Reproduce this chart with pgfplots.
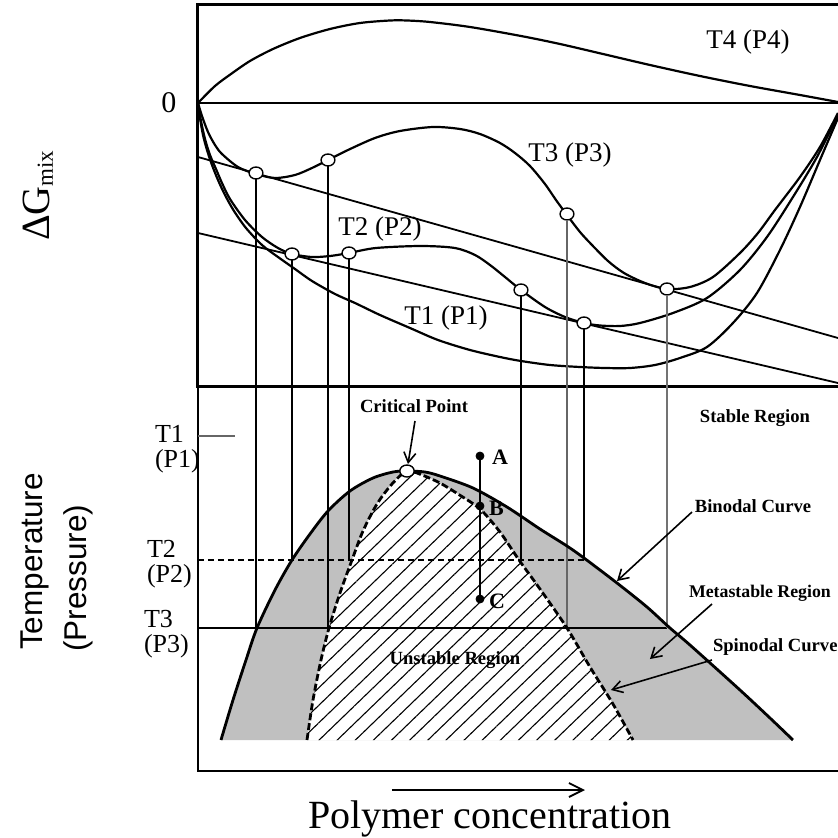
\documentclass[border=0pt]{standalone}
\usepackage{pgfplots}
\pgfplotsset{compat=1.18}
\usepackage{pgfplotstable}
\usepackage{fontspec}
\setmainfont{Liberation Serif}
\newfontfamily\arialfont{Liberation Sans}
\usetikzlibrary{arrows.meta,patterns.meta}
\definecolor{metagray}{RGB}{192,192,192}

% Free-energy curves (x: composition, y: drawing units, downward)
\pgfplotstableread{
x y
198 103
215 86
231 74
250 61
273 49
300 38
330 29
360 23
390 20.5
407 20.5
430 22
470 27
521 36
560 44
603 54
650 65
700 76
750 86
800 95
838 102
}\curveTfour
\pgfplotstableread{
x y
198 103
202 116
208 132
215 145
222 154
238 167
256 174
275 178
295 175
312 168
328 160
348 150
375 138
400 131
433 127
460 129
480 134
500 143
515 153
530 166
545 184
556 200
567 215
580 232
592 245
608 261
624 273
645 283
667 289
690 287
713 277
740 253
758 233
775 210
800 177
820 147
838 113
}\curveTthree
\pgfplotstableread{
x y
198 103
201 121
205 139
210 155
216 169
222 183
230 199
245 220
262 237
278 248
292 254
312 257
330 256
349 253
376 248
421 246
455 248
475 255
490 265
505 277
521 290
545 307
565 317
584 323
600 325.5
620 326
640 323
673 313
707 298
740 270
767 237
793 197
817 157
838 115
}\curveTtwo
\pgfplotstableread{
x y
198 103
200 118
203 135
207 150
212 165
218 180
225 195
234 211
246 228
262 245
278 257
295 269
312 281
335 294
355 303
380 315
410 328
438 340
470 350
500 357
521 361
550 365
580 367
605 368
630 368
655 365
680 358
707 347
733 323
757 293
780 250
800 207
820 160
838 118
}\curveTone
% Phase diagram boundaries
\pgfplotstableread{
x y
221 740
233 700
246 660
257 628
275 590
292 560
310 534
328 511
350 491
373 478
393 472
407 471
425 472
440 476
473 488
507 507
540 529
567 546
584 558
617 583
647 607
670 628
690 645
740 690
770 718
793 740
}\binodal
\pgfplotstableread{
x y
307 740
313 700
321 660
329 628
340 593
352 560
363 531
377 504
392 484
407 471
422 475
440 483
458 494
480 509
500 532
519 560
540 589
567 628
590 667
613 704
633 740
}\spinodal

\pgfplotsset{panel/.style={
  scale only axis, width=320bp, xmin=198, xmax=838,
  y dir=reverse, hide axis, clip=false}}
\tikzset{
  lbl/.style={font=\fontsize{13.5bp}{16bp}\selectfont},
  side/.style={font=\fontsize{13bp}{15bp}\selectfont, anchor=base west},
  reg/.style={font=\fontsize{9.3bp}{11bp}\selectfont\bfseries},
  pointer/.style={line width=0.8bp, -{Straight Barb[length=5bp,width=6bp]}}
}

\begin{document}
\begin{tikzpicture}
% ---- Gibbs free energy of mixing ----
\begin{axis}[panel, name=top, ymin=5, ymax=386, height=190.5bp]
\coordinate (pageTL) at (axis cs:0,0);
\coordinate (pageBR) at (axis cs:838,838);
\draw[line width=1.5bp] (axis cs:838,5) -- (axis cs:198,5) -- (axis cs:198,386) -- (axis cs:838,386);
\addplot[line width=1bp] coordinates {(198,103) (838,103)};
\addplot[line width=1.1bp, smooth] table {\curveTfour};
\addplot[line width=1.1bp, smooth] table {\curveTthree};
\addplot[line width=1.1bp, smooth] table {\curveTtwo};
\addplot[line width=1.1bp, smooth] table {\curveTone};
% common tangents
\addplot[line width=0.9bp] coordinates {(198,157) (838,338)};
\addplot[line width=0.9bp] coordinates {(198,233) (838,383)};
% tangent and inflection points
\addplot[only marks, mark=*, mark size=3bp,
  mark options={fill=white, draw=black, line width=0.7bp, xscale=1.15}]
  coordinates {(256,173) (328,160) (567,214) (667,289)
               (292,254) (349,253) (521,290) (584,323)};
\node[font=\fontsize{15bp}{18bp}\selectfont] at (axis cs:169,103) {0};
\node[lbl] at (axis cs:748,42) {T4 (P4)};
\node[lbl] at (axis cs:570,155) {T3 (P3)};
\node[lbl] at (axis cs:380,229) {T2 (P2)};
\node[lbl] at (axis cs:446,318) {T1 (P1)};
\node[rotate=90, anchor=base west, font=\fontsize{20bp}{23bp}\selectfont]
  at (axis cs:50,248) {ΔG\raisebox{-1.5bp}{\fontsize{11.5bp}{13bp}\selectfont mix}};
\end{axis}

% ---- Phase diagram ----
\begin{axis}[panel, at={(top.south west)}, anchor=north west,
  ymin=386, ymax=772, height=193bp]
\draw[line width=1.4bp] (axis cs:198,386) -- (axis cs:198,771) -- (axis cs:838,771);
\addplot[fill=metagray, draw=none, smooth] table {\binodal} -- cycle;
\addplot[fill=white, draw=none, smooth,
  postaction={pattern={Lines[angle=44, distance=6.3bp, line width=0.55bp]}}]
  table {\spinodal} -- cycle;
% isotherm lines
\addplot[line width=0.6bp, black!60] coordinates {(198,436) (235,436)};
\addplot[line width=0.7bp, dash pattern=on 3bp off 2bp] coordinates {(198,560) (584,560)};
\addplot[line width=0.8bp] coordinates {(198,628) (667,628)};
% projections of the tangent and inflection points
\addplot[line width=0.7bp] coordinates {(256,179) (256,628)};
\addplot[line width=0.7bp] coordinates {(328,166) (328,628)};
\addplot[line width=0.7bp, black!60] coordinates {(567,220) (567,628)};
\addplot[line width=0.7bp, black!55] coordinates {(667,295) (667,628)};
\addplot[line width=0.7bp] coordinates {(292,260) (292,560)};
\addplot[line width=0.7bp] coordinates {(349,259) (349,560)};
\addplot[line width=0.7bp] coordinates {(521,296) (521,560)};
\addplot[line width=0.7bp] coordinates {(584,329) (584,560)};
% binodal and spinodal curves
\addplot[line width=1.4bp, smooth] table {\binodal};
\addplot[line width=1.4bp, smooth, dash pattern=on 3.5bp off 1.5bp] table {\spinodal};
% quench path A-B-C
\addplot[line width=0.8bp] coordinates {(480,456) (480,599)};
\addplot[only marks, mark=*, mark size=2bp] coordinates {(480,456) (480,506) (480,599)};
\addplot[only marks, mark=*, mark size=3bp,
  mark options={fill=white, draw=black, line width=0.7bp, xscale=1.2}]
  coordinates {(407,471)};
\node[reg, font=\fontsize{11bp}{13bp}\selectfont\bfseries, anchor=west] at (axis cs:485,457) {A};
\node[reg, font=\fontsize{11bp}{13bp}\selectfont\bfseries, anchor=west] at (axis cs:482,508) {B};
\node[reg, font=\fontsize{11bp}{13bp}\selectfont\bfseries, anchor=west] at (axis cs:482,601) {C};
% region and curve annotations
\node[reg] at (axis cs:414,406) {Critical Point};
\draw[pointer] (axis cs:415,421) -- (axis cs:408,464);
\node[reg] at (axis cs:755,418) {Stable Region};
\node[reg] at (axis cs:753,506) {Binodal Curve};
\draw[pointer] (axis cs:692,512) -- (axis cs:617,581);
\node[reg, font=\fontsize{8.9bp}{11bp}\selectfont\bfseries, anchor=west] at (axis cs:682,593) {Metastable Region};
\draw[pointer] (axis cs:712,604) -- (axis cs:650,659);
\node[reg, anchor=west] at (axis cs:706,647) {Spinodal Curve};
\draw[pointer] (axis cs:712,660) -- (axis cs:611,690);
\node[reg] at (axis cs:455,660) {Unstable Region};
% axis texts
\node[side] at (axis cs:148,442) {T1};
\node[side] at (axis cs:148,467) {(P1)};
\node[side] at (axis cs:140,557) {T2};
\node[side] at (axis cs:140,582) {(P2)};
\node[side] at (axis cs:137,627) {T3};
\node[side] at (axis cs:137,652) {(P3)};
\node[rotate=90, anchor=base west, font=\arialfont\fontsize{15.75bp}{18bp}\selectfont]
  at (axis cs:43,657) {Temperature};
\node[rotate=90, anchor=base west, font=\arialfont\fontsize{15.75bp}{18bp}\selectfont]
  at (axis cs:87,659) {(Pressure)};
\draw[line width=0.9bp, -{Straight Barb[length=7bp,width=7bp]}] (axis cs:392,790) -- (axis cs:585,790);
\node[anchor=base, font=\fontsize{20bp}{24bp}\selectfont] at (axis cs:490,828) {Polymer concentration};
\end{axis}
\pgfresetboundingbox
\path[use as bounding box] (pageTL) rectangle (pageBR);
\end{tikzpicture}
\end{document}
